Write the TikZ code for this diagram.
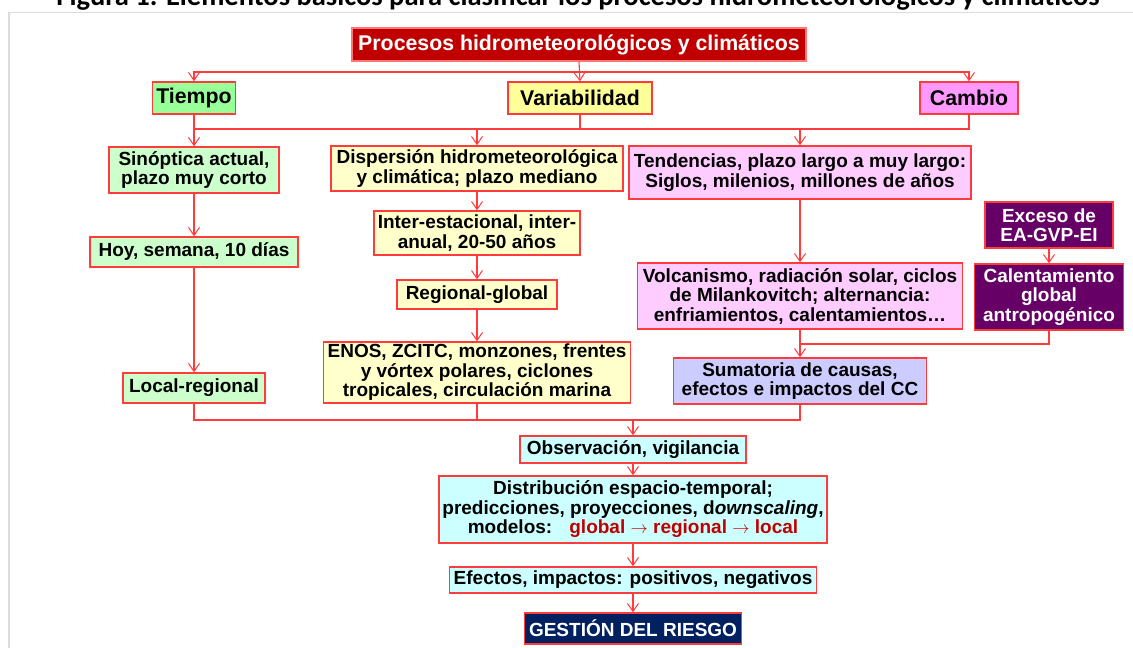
\documentclass[tikz,border=0pt]{standalone}
\usepackage{fontspec}
\setmainfont{Liberation Sans}
\newfontfamily\capfont{Carlito}
\usetikzlibrary{arrows.meta}
\definecolor{lnred}{HTML}{FF3B3B}
\definecolor{titred}{HTML}{C00000}
\definecolor{tgreen}{HTML}{99FF99}
\definecolor{lgreen}{HTML}{CCFFCC}
\definecolor{tyellow}{HTML}{FFFF99}
\definecolor{lyellow}{HTML}{FFFFCC}
\definecolor{tpink}{HTML}{FF99FF}
\definecolor{lpink}{HTML}{FFCCFF}
\definecolor{dpurple}{HTML}{660066}
\definecolor{lavender}{HTML}{CCCCFF}
\definecolor{lcyan}{HTML}{CCFFFF}
\definecolor{navy}{HTML}{002060}
\definecolor{framegray}{HTML}{DCDCDC}
\begin{document}
\begin{tikzpicture}[x=1pt,y=-1pt,
  box/.style={draw=lnred, line width=1.4pt, inner sep=0pt, align=center, text=black,
     font=\bfseries\fontsize{19}{19.5}\selectfont},
  head/.style={box, font=\bfseries\fontsize{21.3}{22}\selectfont},
  dark/.style={box, text=white},
  conn/.style={draw=lnred, line width=1.1pt},
  arr/.style={conn, -{Straight Barb[length=8pt,width=11pt,line width=1pt]}}
]
\useasboundingbox (0,0) rectangle (1133,648);
\clip (0,0) rectangle (1133,648);
% slide frame
\draw[framegray, line width=1.5pt] (1140,12.5) -- (9,12.5) -- (9,660);
% caption (cut off at the top)
\node[anchor=base, font=\capfont\bfseries\fontsize{28.5}{29}\selectfont, inner sep=0pt] (cap) at (578,5)
  {Figura 1. Elementos básicos para clasificar los procesos hidrometeorológicos y climáticos};

% top level
\node[head, fill=titred, text=white, draw=lnred!70, minimum width=454pt, minimum height=33pt] (title) at (579,44.5)
  {Procesos hidrometeorológicos y climáticos};
\node[head, fill=tgreen, minimum width=83pt, minimum height=32pt] (tiempo) at (194,98) {Tiempo};
\node[head, fill=tyellow, minimum width=144pt, minimum height=32pt] (variab) at (580,98) {Variabilidad};
\node[head, fill=tpink, minimum width=98pt, minimum height=32pt] (cambio) at (969,98) {Cambio};

% left column
\node[box, fill=lgreen, minimum width=170pt, minimum height=46pt] (sinop) at (194,170) {Sinóptica actual,\\plazo muy corto};
\node[box, fill=lgreen, minimum width=208pt, minimum height=30pt] (hoy) at (194,252) {Hoy, semana, 10 días};
\node[box, fill=lgreen, minimum width=142pt, minimum height=30pt] (local) at (194,388) {Local-regional};

% middle column
\node[box, fill=lyellow, minimum width=292pt, minimum height=45pt] (disp) at (477,168.5) {Dispersión hidrometeorológica\\y climática; plazo mediano};
\node[box, fill=lyellow, minimum width=206pt, minimum height=44pt] (inter) at (477,233) {Inter-estacional, inter-\\anual, 20-50 años};
\node[box, fill=lyellow, minimum width=160pt, minimum height=29pt] (regglob) at (477,294.5) {Regional-global};
\node[box, fill=lyellow, minimum width=307pt, minimum height=61pt] (enos) at (477,372.5) {ENOS, ZCITC, monzones, frentes\\y vórtex polares, ciclones\\tropicales, circulación marina};

% right column
\node[box, fill=lpink, minimum width=342pt, minimum height=53pt] (tend) at (800,172.5) {Tendencias, plazo largo a muy largo:\\Siglos, milenios, millones de años};
\node[box, fill=lpink, minimum width=325pt, minimum height=66pt] (volc) at (800,296) {Volcanismo, radiación solar, ciclos\\de Milankovitch; alternancia:\\enfriamientos, calentamientos\dots};
\node[dark, fill=dpurple, minimum width=128pt, minimum height=46pt] (exceso) at (1049,225) {Exceso de\\EA-GVP-EI};
\node[dark, fill=dpurple, minimum width=149pt, minimum height=66pt] (calent) at (1049,297) {Calentamiento\\global\\antropogénico};
\node[box, fill=lavender, minimum width=253pt, minimum height=46pt] (suma) at (800,381) {Sumatoria de causas,\\efectos e impactos del CC};

% bottom chain
\node[box, fill=lcyan, minimum width=226pt, minimum height=27pt] (obs) at (633,449.5) {Observación, vigilancia};
\node[box, fill=lcyan, minimum width=388pt, minimum height=67pt] (distr) at (633,509.5)
  {Distribución espacio-temporal;\\predicciones, proyecciones, d\textit{ownscaling},\\modelos:\hspace{0.9em}\textcolor{titred}{global $\rightarrow$ regional $\rightarrow$ local}};
\node[box, fill=lcyan, minimum width=367pt, minimum height=26pt] (efectos) at (633,580) {Efectos, impactos: positivos, negativos};
\node[dark, fill=navy, minimum width=217pt, minimum height=31pt] (gestion) at (633,628.5) {GESTIÓN DEL RIESGO};

% bus coordinates
\coordinate (b1) at (0,72);
\coordinate (b2) at (0,129);
\coordinate (b3) at (0,344);
\coordinate (b4) at (0,420);

% connectors: title to heads
\draw[arr] (title.south) -- (variab.north);
\draw[arr] (title.south |- b1) -| (tiempo.north);
\draw[arr] (title.south |- b1) -| (cambio.north);
% heads to second level
\draw[conn] (tiempo.south) -- (tiempo.south |- b2) -- (cambio.south |- b2) -- (cambio.south);
\draw[conn] (variab.south) -- (variab.south |- b2);
\draw[arr] (sinop.north |- b2) -- (sinop.north);
\draw[arr] (disp.north |- b2) -- (disp.north);
\draw[arr] (tend.north |- b2) -- (tend.north);
% columns
\draw[arr] (sinop) -- (hoy);
\draw[arr] (hoy) -- (local);
\draw[arr] (disp) -- (inter);
\draw[arr] (inter) -- (regglob);
\draw[arr] (regglob) -- (enos);
\draw[arr] (tend) -- (volc);
\draw[arr] (exceso) -- (calent);
\draw[conn] (calent.south) |- (volc.south |- b3);
\draw[arr] (volc) -- (suma);
% bottom bus
\draw[conn] (local.south) -- (local.south |- b4) -- (suma.south |- b4) -- (suma.south);
\draw[conn] (enos.south) -- (enos.south |- b4);
\draw[arr] (obs.north |- b4) -- (obs.north);
\draw[arr] (obs) -- (distr);
\draw[arr] (distr) -- (efectos);
\draw[arr] (efectos) -- (gestion);
\end{tikzpicture}
\end{document}
